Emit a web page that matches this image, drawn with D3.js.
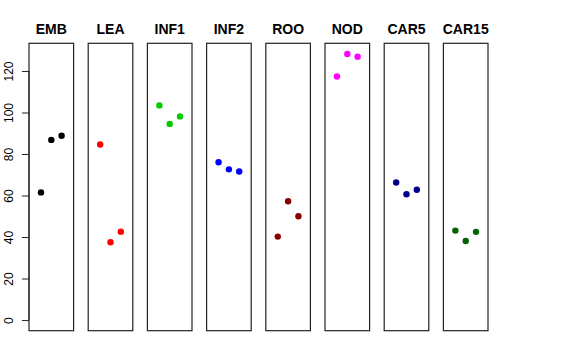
<!DOCTYPE html>
<html><head><meta charset="utf-8">
<script src="https://cdn.jsdelivr.net/npm/d3@7"></script>
<style>body{margin:0;background:#fff}svg{display:block}</style>
</head><body>
<svg id="c" width="576" height="360"></svg>
<script>
const categories = ["EMB","LEA","INF1","INF2","ROO","NOD","CAR5","CAR15"];
const colors = ["#000000","#FF0000","#00CD00","#0000FF","#8B0000","#FF00FF","#00008B","#006400"];
const values = [
  [61.5, 86.8, 88.8],
  [84.6, 37.5, 42.6],
  [103.4, 94.5, 98.1],
  [76.0, 72.6, 71.6],
  [40.2, 57.2, 50.0],
  [117.3, 128.2, 126.9],
  [66.3, 60.6, 62.8],
  [43.1, 38.1, 42.5]
];
const yTicks = [0,20,40,60,80,100,120];
const replicates = [1,2,3];

(function(){
const svg = d3.select("#c");
const plotTop = 43.3, plotBottom = 330.7;
const ymax = d3.max(values.flat());
const y = d3.scaleLinear().domain([-0.04*ymax, ymax*1.04]).range([plotBottom, plotTop]);
const xb = d3.scaleBand().domain(categories).range([29, 488]).paddingInner(0.2466).paddingOuter(0);
const xi = d3.scaleLinear().domain([-0.16, 4.16]).range([0, xb.bandwidth()]);

categories.forEach((c, i) => {
  const g = svg.append("g").attr("transform", `translate(${xb(c)},0)`);
  g.append("rect").attr("x", 0).attr("y", plotTop).attr("width", xb.bandwidth()).attr("height", plotBottom - plotTop)
    .attr("fill", "none").attr("stroke", "#222").attr("stroke-width", 1.2);
  g.append("text").attr("x", xb.bandwidth()/2).attr("y", 34).attr("text-anchor", "middle")
    .attr("font-family", "Liberation Sans, Arial, sans-serif").attr("font-weight", "bold").attr("font-size", 14)
    .text(c);
  g.selectAll("circle").data(values[i]).enter().append("circle")
    .attr("cx", (d, j) => xi(replicates[j])).attr("cy", d => y(d)).attr("r", 3.2).attr("fill", colors[i]);
});

const ax = svg.append("g").attr("transform", `translate(${xb(categories[0])},0)`)
  .call(d3.axisLeft(y).tickValues(yTicks).tickSize(7).tickPadding(0).tickFormat(d3.format("d")));
ax.select(".domain").attr("d", `M0,${y(0)}V${y(120)}`).attr("stroke", "#222");
ax.selectAll(".tick line").attr("stroke", "#222");
ax.selectAll(".tick text")
  .attr("font-family", "Liberation Sans, Arial, sans-serif").attr("font-size", 12).attr("fill", "#000")
  .attr("text-anchor", "middle").attr("x", 0).attr("dy", 0)
  .attr("transform", "translate(-16,0) rotate(-90)");
})();
</script>
</body></html>
